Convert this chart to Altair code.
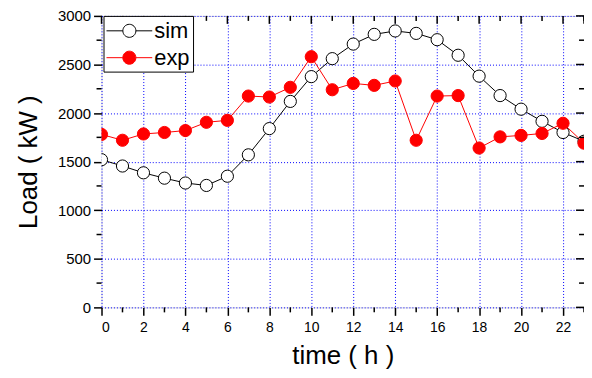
import altair as alt
import pandas as pd

hours = list(range(24))
sim = [1520, 1455, 1385, 1330, 1280, 1255, 1350, 1570, 1840, 2120, 2375, 2560,
       2710, 2810, 2845, 2820, 2755, 2595, 2380, 2180, 2040, 1915, 1800, 1710]
exp = [1780, 1720, 1785, 1800, 1820, 1905, 1925, 2175, 2165, 2265, 2580, 2240,
       2305, 2285, 2330, 1720, 2175, 2180, 1640, 1755, 1770, 1790, 1895, 1690]
series = ["sim", "exp"]
x_major = list(range(0, 23, 2))
x_minor = list(range(1, 24, 2))
y_major = list(range(0, 3001, 500))
y_minor = list(range(250, 3000, 500))

df = pd.DataFrame({
    "time": hours * 2,
    "load": sim + exp,
    "series": ["sim"] * 24 + ["exp"] * 24,
})

W, H = 485, 293
FONT = "Liberation Sans"

xs = alt.Scale(domain=[0, 23], nice=False)
ys = alt.Scale(domain=[0, 3000], nice=False)

sym_path = ("M-2,0H-0.57M0.57,0H2M-0.57,0A0.57,0.57 0 1,0 0.57,0"
            "A0.57,0.57 0 1,0 -0.57,0Z")
legend = alt.Legend(
    title=None, orient="none", legendX=2, legendY=0,
    symbolType=sym_path, symbolSize=529, symbolStrokeWidth=1,
    symbolOffset=11, labelOffset=13, labelFont=FONT, labelFontSize=22,
    labelColor="black", padding=3, rowPadding=4,
    strokeColor="black", fillColor="white",
)
stroke_scale = alt.Scale(domain=series, range=["black", "red"])
fill_scale = alt.Scale(domain=series, range=["white", "red"])

x_enc = alt.X("time:Q", scale=xs, axis=alt.Axis(
    title="time ( h )", values=x_major, format="d", grid=True,
    gridColor="#0000ff", gridDash=[1, 2], gridWidth=1,
    domain=False, tickSize=8, tickWidth=1.5, tickColor="black",
    labelFont=FONT, labelFontSize=14, labelColor="black", labelPadding=5,
    titleFont=FONT, titleFontSize=26, titleFontWeight="normal",
    titleColor="black", titlePadding=8))
y_enc = alt.Y("load:Q", scale=ys, axis=alt.Axis(
    title="Load ( kW )", values=y_major, format="d", grid=True,
    gridColor="#0000ff", gridDash=[1, 2], gridWidth=1,
    domain=False, tickSize=8, tickWidth=1.5, tickColor="black",
    labelFont=FONT, labelFontSize=15, labelColor="black", labelPadding=3,
    titleFont=FONT, titleFontSize=26, titleFontWeight="normal",
    titleColor="black", titlePadding=16))

base = alt.Chart(df)
lines = base.mark_line(strokeWidth=1, clip=True).encode(
    x=x_enc, y=y_enc,
    stroke=alt.Stroke("series:N", scale=stroke_scale, legend=legend),
    detail="series:N",
    order=alt.Order("time:Q"),
)
points = base.mark_point(shape="circle", size=150, strokeWidth=1, opacity=1,
                         filled=False, clip=True).encode(
    x="time:Q", y="load:Q",
    stroke=alt.Stroke("series:N", scale=stroke_scale, legend=legend),
    fill=alt.Fill("series:N", scale=fill_scale, legend=legend),
    order=alt.Order("series:N", sort="descending"),
)

xmaj = pd.DataFrame({"t": x_major + [23]})
xmin = pd.DataFrame({"t": x_minor})
ymaj = pd.DataFrame({"v": y_major})
ymin = pd.DataFrame({"v": y_minor})

tick_style = dict(color="black", strokeWidth=1.5)
bottom_minor = alt.Chart(xmin).mark_rule(**tick_style).encode(
    x=alt.X("t:Q", scale=xs), y=alt.value(H), y2=alt.value(H + 5))
top_major = alt.Chart(xmaj).mark_rule(**tick_style).encode(
    x=alt.X("t:Q", scale=xs), y=alt.value(0), y2=alt.value(8))
top_minor = alt.Chart(xmin).mark_rule(**tick_style).encode(
    x=alt.X("t:Q", scale=xs), y=alt.value(0), y2=alt.value(5))
left_minor = alt.Chart(ymin).mark_rule(**tick_style).encode(
    y=alt.Y("v:Q", scale=ys), x=alt.value(0), x2=alt.value(-5))
right_major = alt.Chart(ymaj).mark_rule(**tick_style).encode(
    y=alt.Y("v:Q", scale=ys), x=alt.value(W), x2=alt.value(W - 8))
right_minor = alt.Chart(ymin).mark_rule(**tick_style).encode(
    y=alt.Y("v:Q", scale=ys), x=alt.value(W), x2=alt.value(W - 5))

chart = alt.layer(
    lines, points, bottom_minor, top_major, top_minor,
    left_minor, right_major, right_minor,
).properties(
    width=W, height=H,
    autosize=alt.AutoSizeParams(type="none"),
    padding={"left": 94, "top": 7, "right": 0, "bottom": 62},
).configure_view(
    stroke="black", strokeWidth=2,
).configure(background="white")

chart.save("out.html", embed_options={"renderer": "svg", "actions": False})
